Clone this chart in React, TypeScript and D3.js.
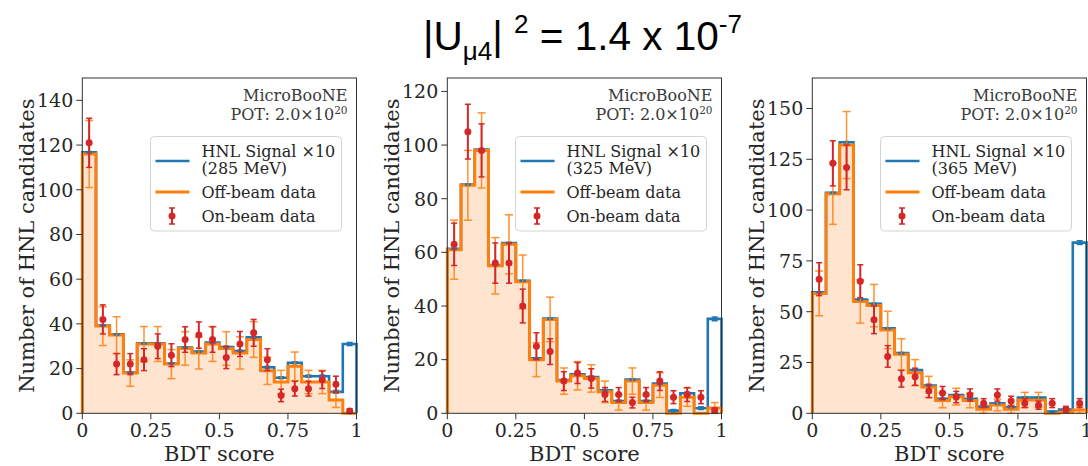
import React from 'react';
import * as d3 from 'd3';

// ---- data -------------------------------------------------------------
const BIN_EDGES = [0, 0.05, 0.1, 0.15, 0.2, 0.25, 0.3, 0.35, 0.4, 0.45, 0.5, 0.55, 0.6, 0.65, 0.7, 0.75, 0.8, 0.85, 0.9, 0.95, 1.0];
const X_TICKS = [0, 0.25, 0.5, 0.75, 1];
const X_TICK_LABELS = ['0', '0.25', '0.5', '0.75', '1'];

const HNL_MASSES = ['285', '325', '365'];
const Y_MAX = [150, 125, 165];
const Y_TICKS_285 = [0, 20, 40, 60, 80, 100, 120, 140];
const Y_TICKS_325 = [0, 20, 40, 60, 80, 100, 120];
const Y_TICKS_365 = [0, 25, 50, 75, 100, 125, 150];

// 285 MeV
const offBeam285 = [116, 39, 35, 18, 31, 31, 22, 29, 27, 31, 29, 27, 33, 19, 14, 21, 14, 14, 6, 0];
const offBeamErr285 = [15.0, 8.7, 8.2, 5.9, 7.8, 7.8, 6.5, 7.5, 7.2, 7.8, 7.5, 7.2, 8.0, 6.1, 5.2, 6.4, 5.2, 5.2, 3.4, 0];
const signal285 = [0.8, 0.3, 0.3, 0.2, 0.3, 0.3, 0.3, 0.4, 0.6, 0.6, 0.6, 0.9, 1.0, 1.6, 1.9, 1.6, 2.6, 2.6, 3.6, 31];
const signalErr285 = [0.3, 0.2, 0.2, 0.2, 0.2, 0.2, 0.2, 0.2, 0.3, 0.3, 0.3, 0.3, 0.3, 0.4, 0.4, 0.4, 0.5, 0.5, 0.6, 0.7];
const onBeam285 = [121, 42, 22, 22, 24, 30, 26, 33, 35, 33, 25, 31, 36, 24, 8, 11, 11, 15, 13, 1];
const onBeamErr285 = [11, 6.5, 4.7, 4.7, 4.9, 5.5, 5.1, 5.7, 5.9, 5.7, 5.0, 5.6, 6.0, 4.9, 2.8, 3.3, 3.3, 3.9, 3.6, 1];

// 325 MeV
const offBeam325 = [61, 85, 98, 55, 63, 49, 20, 35, 12, 14, 13, 8, 4, 12, 4, 10.5, 0, 6, 0, 2];
const offBeamErr325 = [11, 13, 14, 10.5, 11, 10, 6.3, 8.3, 4.9, 5.3, 5.1, 4.0, 2.8, 4.9, 2.8, 4.6, 0, 3.4, 0, 2.0];
const signal325 = [0.3, 0.3, 0.3, 0.3, 0.5, 0.4, 0.5, 0.3, 0.4, 0.5, 0.5, 0.6, 0.6, 0.6, 0.6, 0.6, 1.0, 1.5, 1.9, 33.2];
const signalErr325 = [0.2, 0.2, 0.2, 0.2, 0.2, 0.2, 0.2, 0.2, 0.2, 0.2, 0.3, 0.3, 0.3, 0.3, 0.3, 0.3, 0.4, 0.4, 0.5, 0.7];
const onBeam325 = [63, 105, 98, 56, 56, 40, 25, 23, 12, 15, 13, 7, 7, 4, 7, 12, 6, 7, 6, 1];
const onBeamErr325 = [7.9, 10.2, 9.9, 7.5, 7.5, 6.3, 5.0, 4.8, 3.5, 3.9, 3.6, 2.6, 2.6, 2.0, 2.6, 3.5, 2.4, 2.6, 2.4, 1];

// 365 MeV
const offBeam365 = [59, 108, 132, 55, 53, 41, 29, 20, 13, 6.3, 8.2, 6.3, 2, 4.1, 2, 6.6, 6.6, 0, 0.5, 1.6];
const offBeamErr365 = [11, 15, 16.5, 10.6, 10.4, 9.2, 7.7, 6.4, 5.2, 3.6, 4.1, 3.6, 2.0, 2.9, 2.0, 3.7, 3.7, 0, 1.0, 1.8];
const signal365 = [0.6, 0.5, 1.4, 1.0, 0.9, 0.8, 0.6, 1.3, 0.7, 0.8, 0.8, 0.8, 1.3, 0.8, 1.0, 1.1, 1.1, 0.8, 1.3, 82.4];
const signalErr365 = [0.2, 0.2, 0.3, 0.3, 0.3, 0.3, 0.3, 0.3, 0.3, 0.3, 0.3, 0.3, 0.3, 0.3, 0.3, 0.3, 0.3, 0.3, 0.4, 0.9];
const onBeam365 = [66, 123, 121, 65, 46, 28, 17, 18, 11, 10, 8, 9, 5, 9, 6, 5, 4, 5, 2, 5];
const onBeamErr365 = [8.1, 11.1, 11, 8.1, 6.8, 5.3, 4.1, 4.2, 3.3, 3.2, 2.8, 3.0, 2.2, 3.0, 2.4, 2.2, 2.0, 2.2, 1.4, 2.2];

const panels = [
  { mass: HNL_MASSES[0], yMax: Y_MAX[0], yTicks: Y_TICKS_285, off: offBeam285, offErr: offBeamErr285, sig: signal285, sigErr: signalErr285, on: onBeam285, onErr: onBeamErr285 },
  { mass: HNL_MASSES[1], yMax: Y_MAX[1], yTicks: Y_TICKS_325, off: offBeam325, offErr: offBeamErr325, sig: signal325, sigErr: signalErr325, on: onBeam325, onErr: onBeamErr325 },
  { mass: HNL_MASSES[2], yMax: Y_MAX[2], yTicks: Y_TICKS_365, off: offBeam365, offErr: offBeamErr365, sig: signal365, sigErr: signalErr365, on: onBeam365, onErr: onBeamErr365 },
];

// ---- styling ----------------------------------------------------------
const BLUE = '#1f77b4';
const ORANGE = '#ff7f0e';
const RED = '#d62728';
const FILL = '#ffe5cf';
const INK = '#262626';
const SERIF = "'DejaVu Serif', serif";
const SANS = "'Liberation Sans', Arial, sans-serif";

const W = 1088;
const H = 466;
const AX_TOP = 78;
const AX_BOTTOM = 413.3;
const AX_LEFT = [82.3, 447.3, 812.3];
const AX_WIDTH = 274.2;

function stepPoints(values: number[], x: d3.ScaleLinear<number, number>, y: d3.ScaleLinear<number, number>) {
  const pts: [number, number][] = [[x(BIN_EDGES[0]), y(0)]];
  values.forEach((v, i) => {
    pts.push([x(BIN_EDGES[i]), y(v)]);
    pts.push([x(BIN_EDGES[i + 1]), y(v)]);
  });
  pts.push([x(BIN_EDGES[BIN_EDGES.length - 1]), y(0)]);
  return pts;
}

function ErrorBars({ cx, vals, errs, y, color, width, cap, capWidth, dot, opacity }: any) {
  return (
    <g opacity={opacity ?? 1}>
      {vals.map((v: number, i: number) => {
        const e = errs[i];
        if (e <= 0 && !dot) return null;
        const y1 = y(v + e);
        const y2 = y(Math.max(0, v - e));
        const xc = cx[i];
        return (
          <g key={i}>
            {e > 0 && (
              <>
                <line x1={xc} x2={xc} y1={y1} y2={y2} stroke={color} strokeWidth={width} />
                <line x1={xc - cap} x2={xc + cap} y1={y1} y2={y1} stroke={color} strokeWidth={capWidth} />
                <line x1={xc - cap} x2={xc + cap} y1={y2} y2={y2} stroke={color} strokeWidth={capWidth} />
              </>
            )}
            {dot ? <circle cx={xc} cy={y(v)} r={dot} fill={color} /> : null}
          </g>
        );
      })}
    </g>
  );
}

function Panel({ p, idx }: any) {
  const x0 = AX_LEFT[idx];
  const x = d3.scaleLinear().domain([0, 1]).range([x0, x0 + AX_WIDTH]);
  const y = d3.scaleLinear().domain([0, p.yMax]).range([AX_BOTTOM, AX_TOP]);
  const line = d3.line();
  const total = p.off.map((v: number, i: number) => v + p.sig[i]);
  const centers = p.off.map((_: number, i: number) => x((BIN_EDGES[i] + BIN_EDGES[i + 1]) / 2));

  const offPts = stepPoints(p.off, x, y);
  const totPts = stepPoints(total, x, y);
  const fillPath = line(offPts)! + 'Z';

  const xr = x0 + AX_WIDTH;
  const legX = xr - 15 - 191;
  const legY = 136.5;

  return (
    <g>
      <path d={fillPath} fill={FILL} stroke="none" />
      <path d={line(totPts)!} fill="none" stroke={BLUE} strokeWidth={2.6} strokeLinejoin="miter" />
      <path d={line(offPts)!} fill="none" stroke={ORANGE} strokeWidth={3} strokeLinejoin="miter" />
      <ErrorBars cx={centers} vals={total} errs={p.sigErr} y={y} color={BLUE} width={1.5} cap={3} capWidth={1.5} dot={1.8} />
      <ErrorBars cx={centers} vals={p.off} errs={p.offErr} y={y} color={ORANGE} width={1.5} cap={4} capWidth={1.5} opacity={0.85} />
      <ErrorBars cx={centers} vals={p.on} errs={p.onErr} y={y} color={RED} width={2} cap={3} capWidth={1.5} dot={3.5} />

      {/* frame */}
      <rect x={x0} y={AX_TOP} width={AX_WIDTH} height={AX_BOTTOM - AX_TOP} fill="none" stroke="#333" strokeWidth={1} />

      {/* x axis */}
      {X_TICKS.map((t, i) => (
        <g key={'x' + i}>
          <line x1={x(t)} x2={x(t)} y1={AX_BOTTOM} y2={AX_BOTTOM + 6} stroke="#333" strokeWidth={1} />
          <text x={x(t)} y={436.5} textAnchor="middle" fontFamily={SERIF} fontSize={19} fill={INK}>{X_TICK_LABELS[i]}</text>
        </g>
      ))}
      <text x={x(0.5)} y={460.5} textAnchor="middle" fontFamily={SERIF} fontSize={21} fill={INK}>BDT score</text>

      {/* y axis */}
      {p.yTicks.map((t: number) => (
        <g key={'y' + t}>
          <line x1={x0 - 6} x2={x0} y1={y(t)} y2={y(t)} stroke="#333" strokeWidth={1} />
          <text x={x0 - 9} y={y(t)} dy="0.36em" textAnchor="end" fontFamily={SERIF} fontSize={19} fill={INK}>{t}</text>
        </g>
      ))}
      <text transform={`translate(${x0 - 48.5},${(AX_TOP + AX_BOTTOM) / 2}) rotate(-90)`} textAnchor="middle" fontFamily={SERIF} fontSize={21} fill={INK}>
        Number of HNL candidates
      </text>

      {/* experiment tag */}
      <text x={xr - 9} y={100.7} textAnchor="end" fontFamily={SERIF} fontSize={16} fill="#3a3a3a">MicroBooNE</text>
      <text x={xr - 9} y={119.5} textAnchor="end" fontFamily={SERIF} fontSize={16} fill="#3a3a3a">
        POT: 2.0×10<tspan fontSize={10.5} dy={-6}>20</tspan>
      </text>

      {/* legend */}
      <rect x={legX} y={legY} width={191} height={94.5} rx={4} fill="#fff" fillOpacity={0.8} stroke="#d4d4d4" strokeWidth={1} />
      <line x1={legX + 5} x2={legX + 39} y1={legY + 24.5} y2={legY + 24.5} stroke={BLUE} strokeWidth={2.6} />
      <text x={legX + 51} y={legY + 20} fontFamily={SERIF} fontSize={16} fill={INK}>HNL Signal ×10</text>
      <text x={legX + 51} y={legY + 37.5} fontFamily={SERIF} fontSize={16} fill={INK}>({p.mass} MeV)</text>
      <line x1={legX + 5} x2={legX + 39} y1={legY + 55.5} y2={legY + 55.5} stroke={ORANGE} strokeWidth={3} />
      <text x={legX + 51} y={legY + 61} fontFamily={SERIF} fontSize={16} fill={INK}>Off-beam data</text>
      <line x1={legX + 21.5} x2={legX + 21.5} y1={legY + 71.5} y2={legY + 87.5} stroke={RED} strokeWidth={2} />
      <line x1={legX + 18.5} x2={legX + 24.5} y1={legY + 71.5} y2={legY + 71.5} stroke={RED} strokeWidth={1.5} />
      <line x1={legX + 18.5} x2={legX + 24.5} y1={legY + 87.5} y2={legY + 87.5} stroke={RED} strokeWidth={1.5} />
      <circle cx={legX + 21.5} cy={legY + 79.5} r={3.5} fill={RED} />
      <text x={legX + 51} y={legY + 85} fontFamily={SERIF} fontSize={16} fill={INK}>On-beam data</text>
    </g>
  );
}

export default function App() {
  return (
    <svg width={W} height={H} viewBox={`0 0 ${W} ${H}`} style={{ position: 'absolute', left: 0, top: 0, background: '#fff' }}>
      <rect width={W} height={H} fill="#fff" />
      <text x={423} y={50} fontFamily={SANS} fontSize={40.5} fill="#000">
        |U<tspan fontSize={26} dy={10}>μ4</tspan><tspan dy={-10}>|{' '}</tspan>
        <tspan fontSize={26} dy={-17}>2</tspan><tspan dy={17}>{' '}= 1.4 x 10</tspan>
        <tspan fontSize={26} dy={-17}>-7</tspan>
      </text>
      {panels.map((p, i) => (
        <Panel key={i} p={p} idx={i} />
      ))}
    </svg>
  );
}
